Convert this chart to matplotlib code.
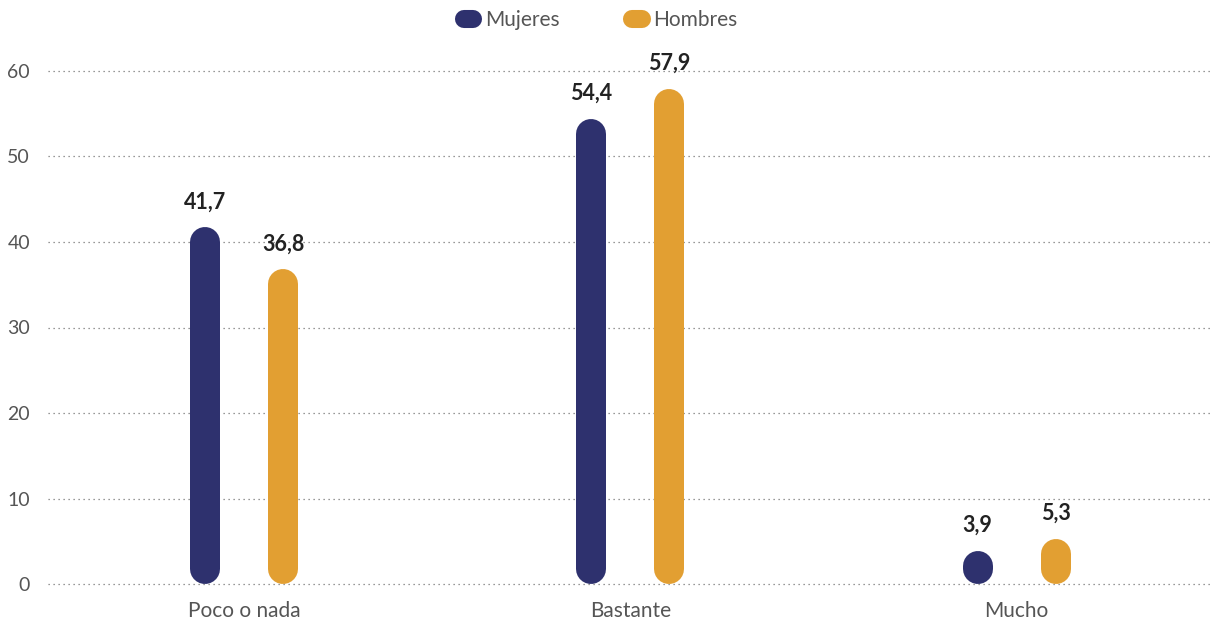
import numpy as np
import matplotlib.pyplot as plt
from matplotlib.lines import Line2D

plt.rcParams["font.family"] = ["Lato", "DejaVu Sans"]

categories = ["Poco o nada", "Bastante", "Mucho"]
mujeres = [41.7, 54.4, 3.9]
hombres = [36.8, 57.9, 5.3]
series = ["Mujeres", "Hombres"]
colors = ["#2E316E", "#E29F32"]

fig = plt.figure(figsize=(12.11, 6.23), dpi=100)
ax = fig.add_axes([48 / 1211, 39 / 623, 1 - 48 / 1211, 513 / 623])
ax.set_xlim(-0.508, 2.503)
ax.set_ylim(0, 60)

# bar width 30px, rounded ends -> thick line with round caps
bar_px = 30
lw_pt = bar_px * 72 / 100
px_per_unit = 513 / 60
r = (bar_px / 2) / px_per_unit
x = np.arange(len(categories))
offset = 0.101

for vals, col, dx in [(mujeres, colors[0], -offset), (hombres, colors[1], offset)]:
    for xi, v in zip(x + dx, vals):
        ax.plot([xi, xi], [r, max(v - r, r)], color=col, lw=lw_pt,
                solid_capstyle="round", zorder=3)
        ax.text(xi, v + 3.0, f"{v:.1f}".replace(".", ","), ha="center", va="center",
                fontsize=15.5, fontweight="bold", color="#222222", zorder=4)

ax.set_yticks(range(0, 61, 10))
ax.grid(axis="y", linestyle=(0, (1, 3)), color="#777777", linewidth=0.9)
for gl in ax.get_ygridlines():
    gl.set_clip_on(False)
ax.set_axisbelow(True)
ax.set_xticks(x)
ax.set_xticklabels(categories)
ax.tick_params(axis="both", length=0, labelsize=15, labelcolor="#555555")
ax.tick_params(axis="y", pad=13, labelsize=14)
ax.tick_params(axis="x", pad=12)
for s in ax.spines.values():
    s.set_visible(False)

handles = [Line2D([0], [0], color=c, lw=13, solid_capstyle="round") for c in colors]
fig.legend(handles, series, loc="upper center", bbox_to_anchor=(0.496, 1.014), ncol=2,
           frameon=False, fontsize=15, handlelength=0.45, handletextpad=0.55,
           columnspacing=3.5, labelcolor="#555555")

fig.savefig("out.png", dpi=100)
